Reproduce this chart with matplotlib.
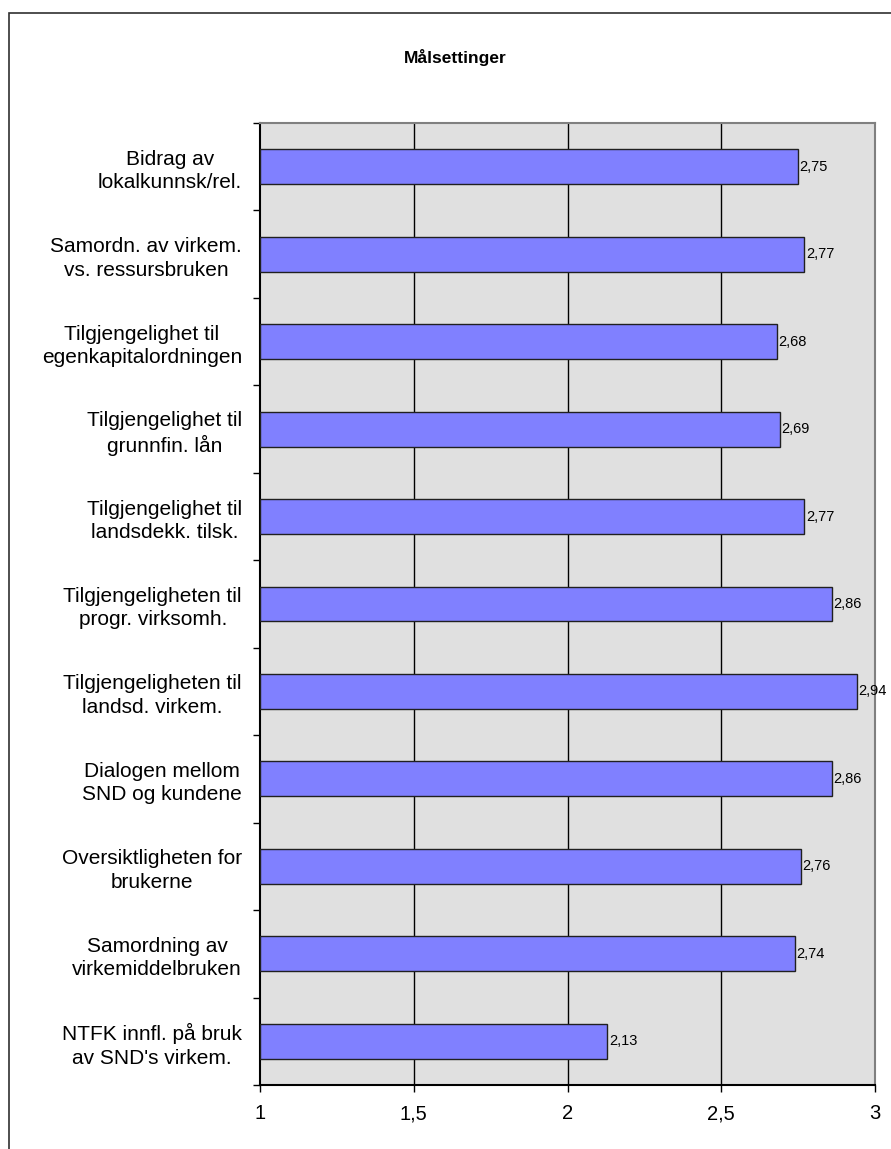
import matplotlib.pyplot as plt
import matplotlib.patches as patches

plt.rcParams['font.family'] = ['Liberation Sans', 'DejaVu Sans']

# Målsettinger - gjennomsnittlig score per spørsmål
categories = [
    "Bidrag av\nlokalkunnsk/rel.",
    "Samordn. av virkem.\nvs. ressursbruken",
    "Tilgjengelighet til\negenkapitalordningen",
    "Tilgjengelighet til\ngrunnfin. lån",
    "Tilgjengelighet til\nlandsdekk. tilsk.",
    "Tilgjengeligheten til\nprogr. virksomh.",
    "Tilgjengeligheten til\nlandsd. virkem.",
    "Dialogen mellom\nSND og kundene",
    "Oversiktligheten for\nbrukerne",
    "Samordning av\nvirkemiddelbruken",
    "NTFK innfl. på bruk\nav SND's virkem.",
]
values = [2.75, 2.77, 2.68, 2.69, 2.77, 2.86, 2.94, 2.86, 2.76, 2.74, 2.13]
x_ticks = [1, 1.5, 2, 2.5, 3]
x_labels = ["1", "1,5", "2", "2,5", "3"]

W, H = 891, 1149
fig = plt.figure(figsize=(W / 100, H / 100), dpi=100)
ax = fig.add_axes([260 / W, 1 - 1085 / H, 615 / W, (1085 - 123) / H])
ax.set_facecolor("#E0E0E0")

y = list(range(len(categories)))
ax.barh(y, [v - 1 for v in values], left=1, height=0.4,
        color="#8080FF", edgecolor="#202020", linewidth=1, zorder=3)

for yi, v in zip(y, values):
    ax.text(v + 0.005, yi, f"{v:.2f}".replace(".", ","), ha="left", va="center",
            fontsize=10.5, color="black", zorder=4)

ax.set_xlim(1, 3)
ax.set_ylim(len(categories) - 0.5, -0.5)

ax.set_xticks(x_ticks)
ax.set_xticklabels(x_labels, fontsize=14.5)
ax.tick_params(axis="x", length=5, width=1, pad=9, direction="out")

ax.set_yticks(y)
ax.set_yticklabels(categories, fontsize=15, linespacing=1.3)
for lbl in ax.get_yticklabels():
    lbl.set_multialignment("center")
ax.tick_params(axis="y", which="major", length=0, pad=13)
ax.set_yticks([i - 0.5 for i in range(len(categories) + 1)], minor=True)
ax.tick_params(axis="y", which="minor", length=5, width=1, direction="out")

for gx in x_ticks[1:-1]:
    ax.axvline(gx, color="black", linewidth=1, zorder=1)

ax.spines["left"].set_color("black")
ax.spines["bottom"].set_color("black")
ax.spines["top"].set_color("#808080")
ax.spines["right"].set_color("#808080")
for s in ax.spines.values():
    s.set_linewidth(1.5)

fig.text(455 / W, 1 - 58 / H, "Målsettinger", ha="center", va="center",
         fontsize=12.5, fontweight="bold")

# ramme rundt diagrammet
fig.patches.append(patches.Rectangle((9 / W, -0.1), 1.1, 1.1 - 12.5 / H,
                                     transform=fig.transFigure, fill=False,
                                     edgecolor="#303030", linewidth=1.2))

fig.savefig("out.png", dpi=100)
